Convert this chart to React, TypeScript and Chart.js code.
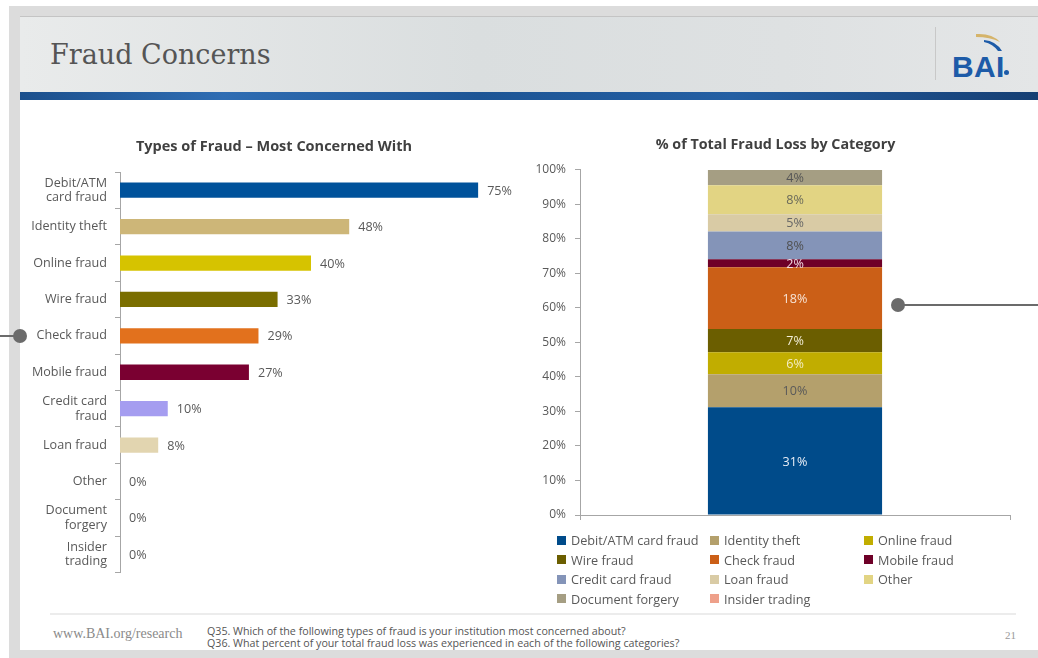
import React, { useEffect, useRef } from "react";
import { Chart, registerables } from "chart.js";

Chart.register(...registerables);

// ---------- Data ----------
const concernCategories: (string | string[])[] = [
  ["Debit/ATM", "card fraud"],
  "Identity theft",
  "Online fraud",
  "Wire fraud",
  "Check fraud",
  "Mobile fraud",
  ["Credit card", "fraud"],
  "Loan fraud",
  "Other",
  ["Document", "forgery"],
  ["Insider", "trading"],
];
const concernValues = [75, 48, 40, 33, 29, 27, 10, 8, 0, 0, 0];
const concernColors = [
  "#00529b", "#cdb678", "#d6c300", "#7a6e00", "#e2711d", "#7a0031",
  "#a59df0", "#e2d5b0", "#cccccc", "#cccccc", "#cccccc",
];

const lossCategories = [
  "Debit/ATM card fraud", "Identity theft", "Online fraud",
  "Wire fraud", "Check fraud", "Mobile fraud",
  "Credit card fraud", "Loan fraud", "Other",
  "Document forgery", "Insider trading",
];
const lossValues = [31.2, 9.6, 6.4, 6.7, 17.9, 2.3, 8.1, 5.0, 8.4, 4.4, 0];
const lossColors = [
  "#004b8a", "#b4a06c", "#c1ad00", "#6b5e00", "#cb5f17", "#6e0028",
  "#8494b8", "#d9cba5", "#e2d483", "#a59e83", "#eea08a",
];
const lossLabelColors = [
  "#e8eef6", "#5a5a5a", "#f3ecc4", "#f2eed8", "#f7e3d5", "#f3dce4",
  "#4f4f4f", "#666666", "#6a6a5a", "#555555", "#555555",
];
const yTicks = [0, 10, 20, 30, 40, 50, 60, 70, 80, 90, 100];

const FONT = "'Open Sans', sans-serif";
const TEXT = "#595959";
const FS = 12.6;

const valueLabels = {
  id: "valueLabels",
  afterDatasetsDraw(chart: any, _args: any, opts: any) {
    const ctx = chart.ctx;
    ctx.save();
    ctx.font = `${FS}px ${FONT}`;
    if (opts.mode === "end") {
      const meta = chart.getDatasetMeta(0);
      meta.data.forEach((bar: any, i: number) => {
        const v = chart.data.datasets[0].data[i];
        ctx.fillStyle = TEXT;
        ctx.textAlign = "left";
        ctx.textBaseline = "middle";
        ctx.fillText(`${v}%`, bar.x + 9, bar.y + 1);
      });
    } else if (opts.mode === "stack") {
      chart.data.datasets.forEach((ds: any, di: number) => {
        const v = ds.data[0];
        if (!v) return;
        const bar = chart.getDatasetMeta(di).data[0] as any;
        ctx.fillStyle = lossLabelColors[di];
        ctx.textAlign = "center";
        ctx.textBaseline = "middle";
        ctx.fillText(`${Math.round(v)}%`, bar.x, (bar.y + bar.base) / 2 + 1);
      });
    }
    ctx.restore();
  },
};

// invisible spacer axis used to balance the title centre
const spacerAxis = (w: number) => ({
  type: "linear" as const,
  axis: "y" as const,
  position: "right" as const,
  display: true,
  min: 0,
  max: 1,
  grid: { display: false },
  border: { display: false },
  ticks: { display: false },
  afterFit: (s: any) => {
    s.width = w;
  },
});

function ConcernChart() {
  const ref = useRef<HTMLCanvasElement>(null);
  useEffect(() => {
    const chart = new Chart(ref.current!, {
      type: "bar",
      data: {
        labels: concernCategories as any,
        datasets: [
          {
            data: concernValues,
            backgroundColor: concernColors,
            categoryPercentage: 1,
            barPercentage: 0.42,
            xAxisID: "x",
            yAxisID: "y",
          },
        ],
      },
      options: {
        indexAxis: "y",
        animation: false,
        responsive: false,
        maintainAspectRatio: false,
        layout: { padding: { left: 0, right: 0, top: 0, bottom: 10 } },
        plugins: {
          legend: { display: false },
          tooltip: { enabled: false },
          title: {
            display: true,
            text: "Types of Fraud – Most Concerned With",
            color: "#404040",
            font: { family: FONT, size: 14.5, weight: "bold" },
            padding: { top: 2.4, bottom: 16.2 },
          },
          valueLabels: { mode: "end" },
        } as any,
        scales: {
          x: { display: false, min: 0, max: 80 },
          y: {
            afterFit: (s: any) => {
              s.width = 120;
            },
            border: { display: true, color: "#a6a6a6", width: 1 },
            grid: {
              drawOnChartArea: false,
              drawTicks: true,
              tickLength: 5,
              color: "#a6a6a6",
              offset: true,
            },
            ticks: {
              color: TEXT,
              padding: 8,
              font: { family: FONT, size: FS, lineHeight: 1.15 },
            },
          },
          ySpacer: spacerAxis(46),
        } as any,
      },
      plugins: [valueLabels],
    });
    return () => chart.destroy();
  }, []);
  return <canvas ref={ref} width={548} height={459} />;
}

function LossChart() {
  const ref = useRef<HTMLCanvasElement>(null);
  useEffect(() => {
    const chart = new Chart(ref.current!, {
      type: "bar",
      data: {
        labels: [""],
        datasets: lossCategories.map((name, i) => ({
          label: name,
          data: [lossValues[i]],
          backgroundColor: lossColors[i],
          categoryPercentage: 1,
          barPercentage: 0.405,
          xAxisID: "x",
          yAxisID: "y",
        })),
      },
      options: {
        animation: false,
        responsive: false,
        maintainAspectRatio: false,
        layout: { padding: { left: 0, right: 0, top: 0, bottom: 13 } },
        plugins: {
          legend: { display: false },
          tooltip: { enabled: false },
          title: {
            display: true,
            text: "% of Total Fraud Loss by Category",
            color: "#404040",
            font: { family: FONT, size: 14.3, weight: "bold" },
            padding: { top: 0, bottom: 16.8 },
          },
          valueLabels: { mode: "stack" },
        } as any,
        scales: {
          x: {
            stacked: true,
            afterFit: (s: any) => {
              s.height = 8;
            },
            border: { display: true, color: "#a6a6a6", width: 1 },
            grid: {
              drawOnChartArea: false,
              drawTicks: true,
              tickLength: 5,
              color: "#a6a6a6",
              offset: true,
            },
            ticks: { display: false },
          },
          y: {
            stacked: true,
            min: 0,
            max: 100,
            afterFit: (s: any) => {
              s.width = 64;
            },
            afterBuildTicks: (s: any) => {
              s.ticks = yTicks.map((v) => ({ value: v }));
            },
            border: { display: true, color: "#a6a6a6", width: 1 },
            grid: {
              drawOnChartArea: false,
              drawTicks: true,
              tickLength: 5,
              color: "#a6a6a6",
            },
            ticks: {
              color: TEXT,
              padding: 9,
              font: { family: FONT, size: 12 },
              callback: (v: any) => `${v}%`,
            },
          },
          ySpacer: spacerAxis(25),
        } as any,
      },
      plugins: [valueLabels],
    });
    return () => chart.destroy();
  }, []);
  return <canvas ref={ref} width={519} height={400} />;
}

const legendCols = [557, 710, 864];
const legendRows = [540, 559.5, 579, 598.5];

export default function App() {
  useEffect(() => {
    document.body.style.margin = "0";
  }, []);
  const abs = (s: React.CSSProperties): React.CSSProperties => ({ position: "absolute", ...s });
  return (
    <div style={{ position: "absolute", left: 0, top: 0, width: 1038, height: 658, overflow: "hidden", background: "#fff", fontFamily: FONT }}>
      {/* slide frame */}
      <div style={abs({ left: 9, top: 6, width: 1029, height: 652, background: "#dcdcdc" })} />
      <div style={abs({ left: 20, top: 16, width: 1018, height: 634, background: "#fff" })} />
      {/* header */}
      <div style={abs({ left: 20, top: 16, width: 1018, height: 76, background: "linear-gradient(90deg, #e9ebeb 0%, #dadedf 45%, #dee1e2 75%, #e4e6e7 100%)", borderTop: "1px solid #c4c4c4" })} />
      <div style={abs({ left: 20, top: 92, width: 1018, height: 8, background: "linear-gradient(90deg, #1b4f8c 0%, #2f6db3 20%, #1d5595 45%, #245fa3 70%, #163f73 100%)" })} />
      <div style={abs({ left: 50, top: 39, fontFamily: "'DejaVu Serif', serif", fontSize: 27, color: "#555555", whiteSpace: "nowrap" })}>Fraud Concerns</div>
      {/* logo */}
      <div style={abs({ left: 935, top: 27, width: 1, height: 53, background: "#c8c8c8" })} />
      <svg style={abs({ left: 962, top: 30, width: 50, height: 30 })} viewBox="0 0 50 30">
        <path d="M14 4 Q30 3 38 12 Q28 7 14 7 Z" fill="#d5b46a" />
        <path d="M22 10 Q34 11 40 21 L36 21 Q31 14 22 12 Z" fill="#1d5ba8" />
      </svg>
      <div style={abs({ left: 952, top: 50, fontFamily: "'Liberation Sans', Arial, sans-serif", fontWeight: "bold", fontSize: 30, color: "#1d5ba8", letterSpacing: 0.3 })}>BAI</div>
      <div style={abs({ left: 1004, top: 70, width: 5, height: 5, borderRadius: 3, background: "#1d5ba8" })} />
      {/* decorative connectors */}
      <div style={abs({ left: 0, top: 335, width: 20, height: 2, background: "#6b6b6b" })} />
      <div style={abs({ left: 13, top: 329, width: 14, height: 14, borderRadius: 7, background: "#6b6b6b" })} />
      {/* charts */}
      <div style={abs({ left: 0, top: 136 })}><ConcernChart /></div>
      <div style={abs({ left: 516, top: 136 })}><LossChart /></div>
      <div style={abs({ left: 898, top: 304, width: 140, height: 2, background: "#6b6b6b" })} />
      <div style={abs({ left: 891, top: 298, width: 14, height: 14, borderRadius: 7, background: "#6b6b6b" })} />
      {/* legend */}
      {lossCategories.map((name, i) => {
        const x = legendCols[i % 3];
        const y = legendRows[Math.floor(i / 3)];
        return (
          <div key={name} style={abs({ left: x, top: y - 9, height: 18, display: "flex", alignItems: "center", whiteSpace: "nowrap", fontSize: 12.7, color: TEXT })}>
            <span style={{ display: "inline-block", width: 9, height: 9, background: lossColors[i], marginRight: 5 }} />
            {name}
          </div>
        );
      })}
      {/* footer */}
      <div style={abs({ left: 50, top: 613, width: 966, height: 2, background: "#ececec" })} />
      <div style={abs({ left: 53, top: 626, fontFamily: "'Liberation Serif', serif", fontSize: 14, color: "#8a8a8a", whiteSpace: "nowrap" })}>www.BAI.org/research</div>
      <div style={abs({ left: 207, top: 625, fontSize: 10.7, lineHeight: "12px", color: "#555555", whiteSpace: "nowrap" })}>
        <div>Q35. Which of the following types of fraud is your institution most concerned about?</div>
        <div>Q36. What percent of your total fraud loss was experienced in each of the following categories?</div>
      </div>
      <div style={abs({ left: 1005, top: 629, fontFamily: "'Liberation Serif', serif", fontSize: 11, color: "#999999" })}>21</div>
    </div>
  );
}
